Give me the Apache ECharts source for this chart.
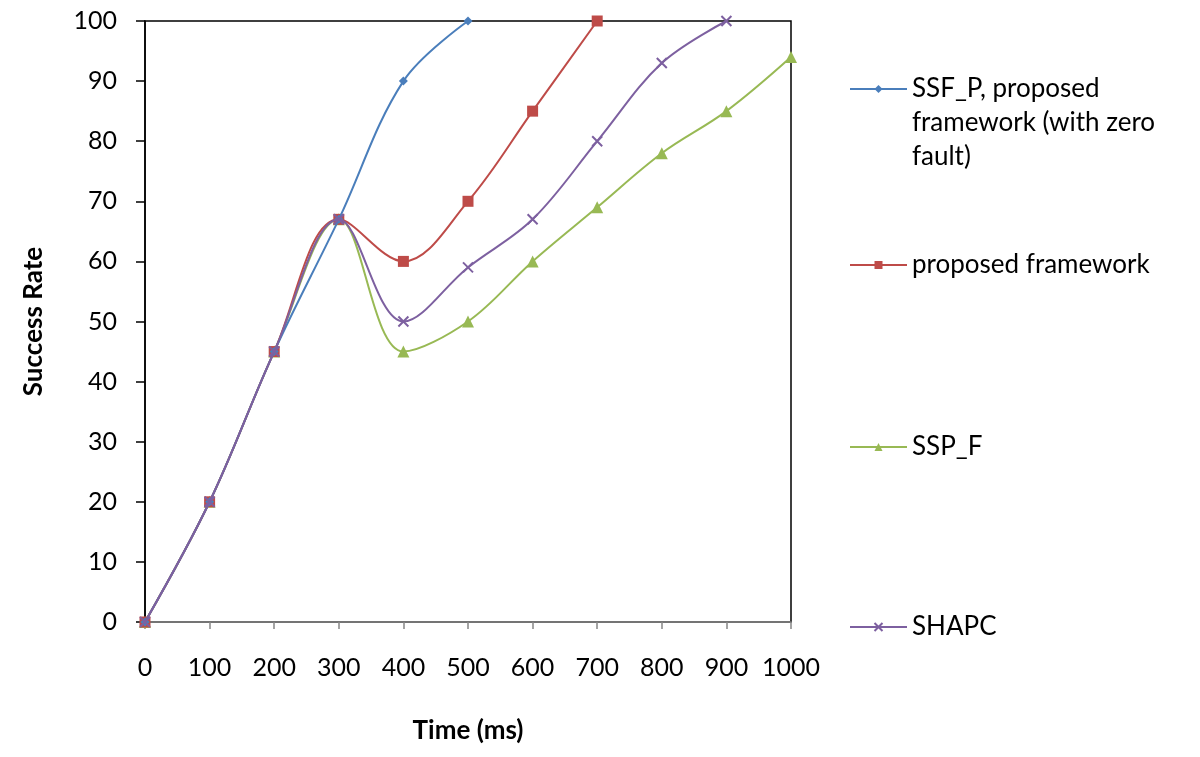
<!DOCTYPE html>
<html>
<head>
<meta charset="utf-8">
<script src="https://cdn.jsdelivr.net/npm/echarts@6/dist/echarts.min.js"></script>
<style>html,body{margin:0;padding:0;background:#fff}#c{width:1200px;height:757px}</style>
</head>
<body>
<div id="c"></div>
<script>
const xTicks = [0,100,200,300,400,500,600,700,800,900,1000];
const ssfP = [[0,0],[100,20],[200,45],[300,67],[400,90],[500,100]];
const proposed = [[0,0],[100,20],[200,45],[300,67],[400,60],[500,70],[600,85],[700,100]];
const sspF = [[0,0],[100,20],[200,45],[300,67],[400,45],[500,50],[600,60],[700,69],[800,78],[900,85],[1000,94]];
const shapc = [[0,0],[100,20],[200,45],[300,67],[400,50],[500,59],[600,67],[700,80],[800,93],[900,100]];
const names = ['SSF_P, proposed framework (with zero fault)','proposed framework','SSP_F','SHAPC'];
const legendLines = [['SSF_P, proposed','framework (with zero','fault)'],['proposed framework'],['SSP_F'],['SHAPC']];
const colors = ['#4A7EBB','#BE4B48','#98B954','#7D60A0'];

const FONT = 'Lato';
const chart = echarts.init(document.getElementById('c'), null, {renderer:'canvas'});
const crossPath = 'path://M0,0L10,10M10,0L0,10';
const SM = 0.36;

function legendFor(i, top) {
  const lines = legendLines[i];
  const pad = [];
  for (let k = 1; k < lines.length; k++) pad.push(' ');
  const txt = pad.concat(lines).join('\n');
  return {
    data:[names[i]], left:849, top:top, orient:'vertical', padding:0,
    itemWidth:57, itemHeight:10, itemGap:0,
    formatter:function(){return txt;},
    textStyle:{fontFamily:FONT, fontSize:26, color:'#000', lineHeight:34},
    selectedMode:false
  };
}

chart.setOption({
  animation:false,
  backgroundColor:'#fff',
  grid:{left:145, right:409, top:21, bottom:135, show:true, borderColor:'#000', borderWidth:1.5, backgroundColor:'transparent'},
  xAxis:{
    type:'value', min:0, max:1000, interval:100,
    name:'Time (ms)', nameLocation:'middle', nameGap:96,
    nameTextStyle:{fontFamily:FONT, fontWeight:'bold', fontSize:26, color:'#000'},
    axisLine:{lineStyle:{color:'#868686', width:1.5}},
    axisTick:{show:true, length:7, lineStyle:{color:'#868686', width:1.5}},
    axisLabel:{fontFamily:FONT, fontSize:25, color:'#000', margin:33, formatter:function(v){return String(v);}},
    splitLine:{show:false}
  },
  yAxis:{
    type:'value', min:0, max:100, interval:10,
    name:'Success Rate', nameLocation:'middle', nameGap:98, nameRotate:90,
    nameTextStyle:{fontFamily:FONT, fontWeight:'bold', fontSize:26, color:'#000'},
    axisLine:{lineStyle:{color:'#000', width:1.5}},
    axisTick:{show:true, length:9, lineStyle:{color:'#000', width:1.5}},
    axisLabel:{fontFamily:FONT, fontSize:25, color:'#000', margin:28},
    splitLine:{show:false}
  },
  legend:[
    legendFor(0, 4),
    legendFor(1, 248),
    legendFor(2, 430),
    legendFor(3, 610)
  ],
  series:[
    {name:names[0], type:'line', data:ssfP, smooth:SM, symbol:'diamond', symbolSize:9,
      itemStyle:{color:colors[0]}, lineStyle:{color:colors[0], width:2}, z:4},
    {name:names[1], type:'line', data:proposed, smooth:SM, symbol:'rect', symbolSize:11,
      itemStyle:{color:colors[1]}, lineStyle:{color:colors[1], width:2}, z:3},
    {name:names[2], type:'line', data:sspF, smooth:SM, symbol:'triangle', symbolSize:12,
      itemStyle:{color:colors[2]}, lineStyle:{color:colors[2], width:2}, z:2},
    {name:names[3], type:'line', data:shapc, smooth:SM, symbol:crossPath, symbolSize:10,
      itemStyle:{color:'rgba(0,0,0,0)', borderColor:colors[3], borderWidth:2}, lineStyle:{color:colors[3], width:2}, z:5}
  ]
});
</script>
</body>
</html>
